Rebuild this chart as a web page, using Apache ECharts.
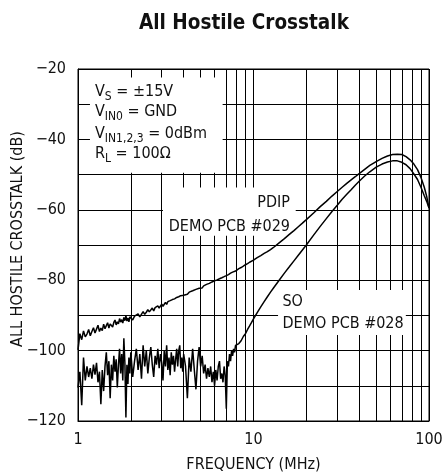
<!DOCTYPE html>
<html>
<head>
<meta charset="utf-8">
<script src="https://cdn.jsdelivr.net/npm/echarts@6/dist/echarts.min.js"></script>
<style>
  html, body { margin: 0; padding: 0; background: #fff; }
  #chart { width: 445px; height: 474px; }
</style>
</head>
<body>
<div id="chart"></div>
<script>
// Measurement frequencies (MHz), shared by both traces
const freqMHz = [
  1, 1.025, 1.05, 1.075, 1.1, 1.125, 1.15, 1.175, 1.2, 1.225,
  1.25, 1.275, 1.3, 1.325, 1.35, 1.375, 1.4, 1.425, 1.45, 1.475,
  1.5, 1.525, 1.55, 1.575, 1.6, 1.625, 1.65, 1.675, 1.7, 1.725,
  1.75, 1.775, 1.8, 1.825, 1.85, 1.875, 1.9, 1.925, 1.95, 1.975,
  2, 2.05, 2.1, 2.15, 2.2, 2.25, 2.3, 2.35, 2.4, 2.45,
  2.5, 2.55, 2.6, 2.65, 2.7, 2.75, 2.8, 2.85, 2.9, 2.95,
  3, 3.05, 3.1, 3.15, 3.2, 3.25, 3.3, 3.35, 3.4, 3.45,
  3.5, 3.55, 3.6, 3.65, 3.7, 3.75, 3.8, 3.85, 3.9, 3.95,
  4, 4.1, 4.2, 4.3, 4.4, 4.5, 4.6, 4.7, 4.8, 4.9,
  5, 5.1, 5.2, 5.3, 5.4, 5.5, 5.6, 5.7, 5.8, 5.9,
  6, 6.1, 6.2, 6.3, 6.4, 6.5, 6.6, 6.7, 6.8, 6.9,
  7, 7.1, 7.2, 7.3, 7.4, 7.5, 7.6, 7.7, 7.8, 7.9,
  8, 8.25, 8.5, 8.75, 9, 9.25, 9.5, 9.75, 10, 10.5,
  11, 11.5, 12, 12.5, 13, 14, 15, 16, 17, 18,
  19, 20, 22, 24, 26, 28, 30, 32, 34, 36,
  38, 40, 43, 46, 50, 54, 58, 62, 66, 70,
  74, 78, 82, 86, 90, 94, 97, 100
];

// PDIP, demo PCB #029 (dB)
const pdipDb = [
  -99.8, -95.2, -96.9, -94.4, -96.1, -95.3, -94.0, -95.8, -94.6, -93.5,
  -95.0, -93.9, -92.8, -94.6, -93.6, -94.3, -92.5, -93.8, -92.9, -92.1,
  -93.6, -92.4, -91.9, -93.3, -92.0, -91.3, -92.7, -91.8, -92.4, -90.9,
  -91.9, -91.2, -92.2, -90.6, -91.5, -90.1, -91.6, -90.7, -91.8, -90.4,
  -90.8, -91.3, -90.2, -90.7, -89.6, -90.4, -89.9, -88.9, -89.7, -89.1,
  -88.4, -89.0, -88.6, -87.9, -88.7, -87.8, -88.2, -87.3, -87.9, -87.5,
  -86.8, -87.4, -86.9, -86.3, -86.9, -86.1, -86.5, -85.8, -86.2, -85.5,
  -85.9, -85.3, -85.7, -84.9, -85.3, -84.7, -85.0, -84.4, -84.7, -84.2,
  -84.3, -83.8, -84.0, -83.4, -83.6, -83.0, -83.2, -82.6, -82.8, -82.3,
  -82.0, -82.2, -81.6, -81.8, -81.2, -81.4, -80.9, -81.0, -80.5, -80.6,
  -80.2, -80.3, -79.9, -80.0, -79.6, -79.7, -79.3, -79.4, -79.0, -79.1,
  -78.7, -78.8, -78.4, -78.4, -78.0, -78.1, -77.7, -77.7, -77.4, -77.4,
  -77.1, -76.7, -76.4, -76.0, -75.6, -75.3, -74.9, -74.6, -74.3, -73.6,
  -73.0, -72.4, -71.9, -71.3, -70.7, -69.4, -68.2, -67.0, -65.9, -64.8,
  -63.8, -62.8, -60.9, -59.1, -57.6, -56.1, -54.8, -53.6, -52.5, -51.5,
  -50.6, -49.7, -48.5, -47.4, -46.3, -45.4, -44.7, -44.3, -44.2, -44.3,
  -44.9, -45.8, -47.0, -48.6, -50.8, -53.6, -56.2, -59.5
];

// SO, demo PCB #028 (dB)
const soDb = [
  -110.5, -106.0, -115.5, -102.0, -108.5, -104.5, -107.5, -105.0, -108.0, -104.0,
  -106.8, -103.5, -109.0, -106.0, -115.2, -105.5, -111.5, -104.5, -100.5, -107.0,
  -103.0, -113.5, -104.0, -108.5, -101.5, -106.0, -102.5, -110.5, -104.0, -99.5,
  -106.5, -101.0, -108.5, -96.5, -103.5, -119.0, -104.0, -109.5, -102.0, -106.5,
  -100.5, -107.5, -103.0, -99.5, -105.5, -101.0, -108.0, -98.5, -104.5, -100.0,
  -106.5, -102.0, -99.0, -104.0, -107.5, -101.5, -104.0, -99.5, -105.0, -101.0,
  -103.5, -108.5, -100.0, -104.5, -98.5, -105.5, -102.0, -107.0, -100.5, -104.0,
  -101.5, -106.0, -102.5, -99.5, -104.5, -100.0, -98.5, -105.0, -102.0, -106.0,
  -101.0, -104.5, -113.5, -102.0, -106.0, -99.5, -105.5, -111.0, -103.0, -99.0,
  -104.5, -101.5, -106.5, -104.0, -108.0, -105.0, -107.5, -104.5, -109.0, -106.0,
  -110.0, -105.5, -108.5, -104.5, -103.0, -108.0, -106.5, -109.0, -104.5, -107.0,
  -116.5, -103.0, -104.5, -101.0, -103.0, -100.0, -101.5, -99.5, -100.5, -98.5,
  -98.8, -98.0, -97.2, -96.0, -95.2, -94.0, -93.0, -92.0, -91.0, -89.2,
  -87.6, -86.1, -84.7, -83.4, -82.2, -80.0, -78.0, -76.2, -74.5, -72.9,
  -71.4, -70.0, -67.2, -64.7, -62.5, -60.5, -58.7, -57.0, -55.6, -54.3,
  -53.0, -51.9, -50.4, -49.2, -47.9, -47.0, -46.4, -46.1, -46.1, -46.5,
  -47.2, -48.3, -49.8, -51.4, -53.6, -56.0, -57.6, -59.5
];

// Intermediate decade gridlines (MHz)
const minorFreqs = [2, 3, 4, 5, 6, 7, 8, 9, 20, 30, 40, 50, 60, 70, 80, 90];

const FONT = "'Liberation Sans Narrow', 'DejaVu Sans Condensed', 'Liberation Sans', sans-serif";

const chart = echarts.init(document.getElementById('chart'), null, { renderer: 'canvas' });

const toPairs = (ys) => freqMHz.map((f, i) => [f, ys[i]]);

const option = {
  animation: false,
  backgroundColor: '#ffffff',
  title: {
    text: 'All Hostile Crosstalk',
    left: 134,
    top: 8,
    textStyle: { fontFamily: FONT, fontSize: 20.5, fontWeight: 'bold', color: '#111' }
  },
  grid: {
    left: 78, top: 69, width: 351, height: 352,
    containLabel: false, outerBoundsMode: 'none',
    show: true, borderColor: '#000', borderWidth: 1, backgroundColor: 'transparent'
  },
  xAxis: {
    type: 'log', logBase: 10, min: 1, max: 100,
    name: 'FREQUENCY (MHz)', nameLocation: 'middle', nameGap: 36,
    nameTextStyle: { fontFamily: FONT, fontSize: 16, color: '#111' },
    axisLine: { show: true, lineStyle: { color: '#000', width: 1 } },
    axisTick: { show: false },
    axisLabel: { fontFamily: FONT, fontSize: 16, color: '#111', margin: 11 },
    splitLine: { show: true, lineStyle: { color: '#000', width: 1 } }
  },
  yAxis: {
    type: 'value', min: -120, max: -20, interval: 10,
    name: 'ALL HOSTILE CROSSTALK (dB)', nameLocation: 'middle', nameGap: 52, nameRotate: 90,
    nameMoveOverlap: false,
    nameTextStyle: { fontFamily: FONT, fontSize: 16, color: '#111', padding: [0, 0, 0, 12] },
    axisLine: { show: true, lineStyle: { color: '#000', width: 1 } },
    axisTick: { show: false },
    axisLabel: {
      fontFamily: FONT, fontSize: 16, color: '#111', margin: 12,
      formatter: (v) => (v % 20 === 0 ? '\u2212' + Math.abs(v) : '')
    },
    splitLine: { show: true, lineStyle: { color: '#000', width: 1 } }
  },
  series: [
    {
      name: 'PDIP', type: 'line', z: 3,
      data: toPairs(pdipDb),
      showSymbol: false, symbol: 'none',
      lineStyle: { color: '#000', width: 1.5 },
      markLine: {
        z: 1, silent: true, animation: false,
        symbol: ['none', 'none'],
        label: { show: false },
        lineStyle: { color: '#000', width: 1, type: 'solid' },
        data: minorFreqs.map((f) => ({ xAxis: f }))
      },
      // white panels behind the annotations
      markArea: {
        z: 2, silent: true, animation: false,
        itemStyle: { color: '#fff' },
        label: { show: false },
        data: [
          [{ xAxis: 1.17, yAxis: -22.4 }, { xAxis: 6.67, yAxis: -49.5 }],
          [{ xAxis: 3.05, yAxis: -53.7 }, { xAxis: 17.4, yAxis: -67.4 }],
          [{ xAxis: 13.8, yAxis: -82.8 }, { xAxis: 73.8, yAxis: -95.6 }]
        ]
      }
    },
    {
      name: 'SO', type: 'line', z: 3,
      data: toPairs(soDb),
      showSymbol: false, symbol: 'none',
      lineStyle: { color: '#000', width: 1.5 }
    }
  ]
};

chart.setOption(option);

// Annotation text placed at data-space anchors
const px = (f, db) => chart.convertToPixel({ gridIndex: 0 }, [f, db]);
const rich = {
  v: { fontFamily: FONT, fontSize: 16, fill: '#111' },
  s: { fontFamily: FONT, fontSize: 12, fill: '#111', padding: [10, 0, 0, 0] }
};
const condLines = [
  ['{v|V}{s|S}{v| = \u00b115V}', -26.55],
  ['{v|V}{s|IN0}{v| = GND}', -32.24],
  ['{v|V}{s|IN1,2,3}{v| = 0dBm}', -38.37],
  ['{v|R}{s|L}{v| = 100\u03a9}', -44.06]
];
const graphics = condLines.map(([t, db]) => {
  const p = px(1.25, db);
  return {
    type: 'text', z: 10, silent: true, x: p[0], y: p[1],
    style: { text: t, rich: rich, align: 'left', verticalAlign: 'middle' }
  };
});
const plain = (text, f, db, align) => {
  const p = px(f, db);
  return {
    type: 'text', z: 10, silent: true, x: p[0], y: p[1],
    style: { text: text, fontFamily: FONT, fontSize: 16, fill: '#111', align: align, verticalAlign: 'middle' }
  };
};
graphics.push(plain('PDIP', 16.14, -58.0, 'right'));
graphics.push(plain('DEMO PCB #029', 16.14, -64.7, 'right'));
graphics.push(plain('SO', 14.62, -86.2, 'left'));
graphics.push(plain('DEMO PCB #028', 14.62, -92.5, 'left'));

chart.setOption({ graphic: graphics });
</script>
</body>
</html>
